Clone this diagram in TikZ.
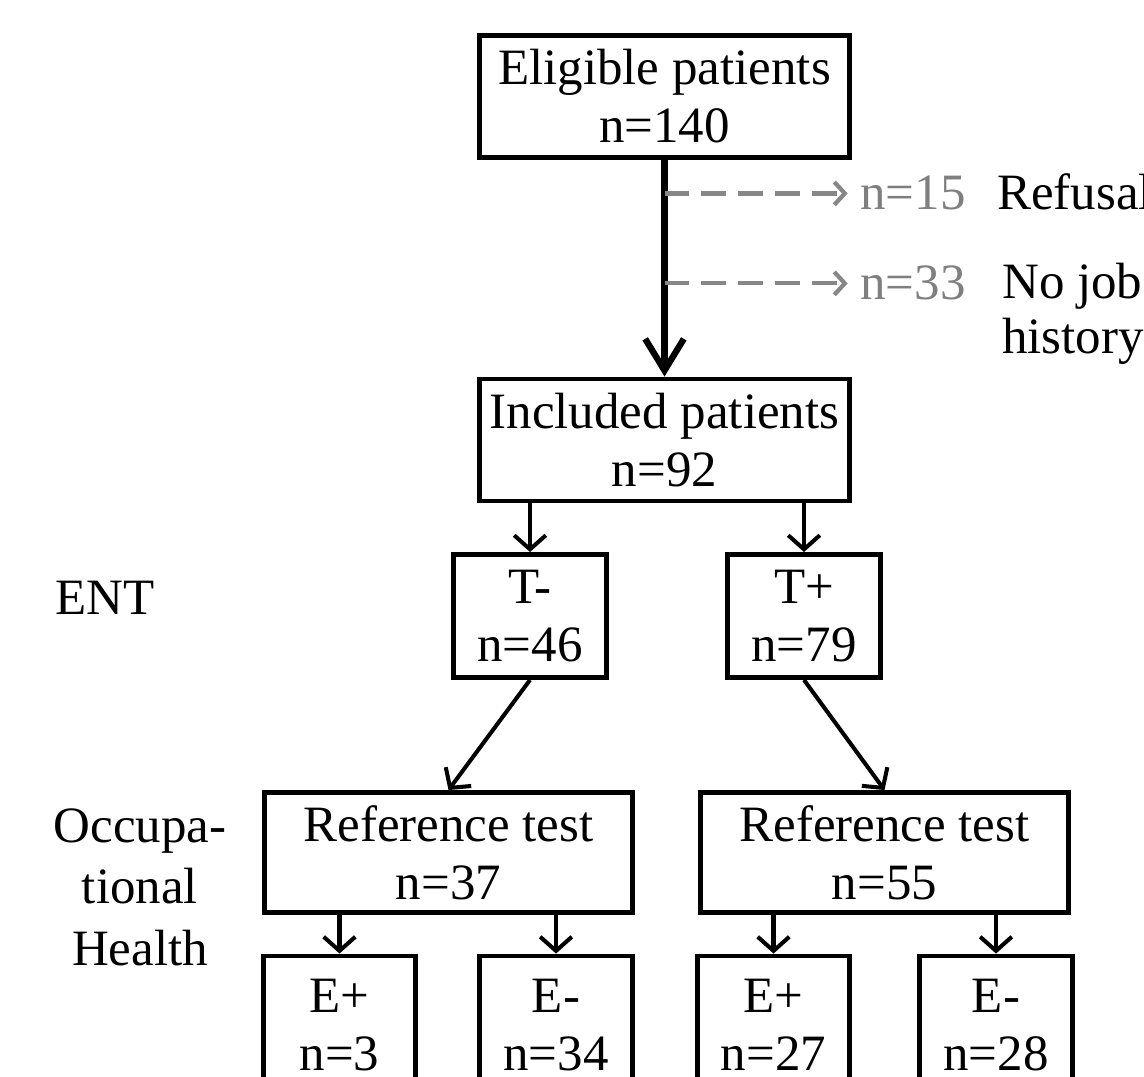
\documentclass[tikz,border=0pt]{standalone}
\usepackage{fontspec}
\setmainfont{Liberation Serif}
\usetikzlibrary{arrows.meta}
\definecolor{dashgray}{HTML}{878787}
\definecolor{countgray}{HTML}{7F7F7F}

\begin{document}
\begin{tikzpicture}[x=0.02cm,y=-0.02cm,
  every node/.style={font=\fontsize{29}{33}\selectfont},
  flowbox/.style={draw, line width=2.8pt, align=center, inner sep=0pt},
  widebox/.style={flowbox, minimum width=7.4cm, minimum height=2.44cm},
  smallbox/.style={flowbox, minimum width=3.05cm, minimum height=2.46cm},
  flow/.style={line width=2.3pt, -{Straight Barb[length=8pt,width=18pt]}},
  mainflow/.style={line width=3.6pt, -{Straight Barb[length=18pt,width=22pt]}},
  exclusion/.style={dashgray, line width=2.4pt, dash pattern=on 14pt off 7pt, -{Straight Barb[length=6pt,width=13pt]}},
  count/.style={text=countgray, anchor=base west, inner sep=0pt},
  sidelabel/.style={anchor=base west, inner sep=0pt}]
\useasboundingbox (0,0) rectangle (1144,1077);
\clip (0,0) rectangle (1144,1077);

\node[widebox] (elig) at (664.5,96.5) {Eligible patients\\n=140};
\node[widebox] (incl) at (664.5,440) {Included patients\\n=92};
\node[smallbox] (tneg) at (530,616) {T-\\n=46};
\node[smallbox] (tpos) at (804,616) {T+\\n=79};
\node[widebox, minimum width=7.36cm, minimum height=2.4cm] (refneg) at (448.5,852.5) {Reference test\\n=37};
\node[widebox, minimum width=7.36cm, minimum height=2.4cm] (refpos) at (884.5,852.5) {Reference test\\n=55};
\node[smallbox, minimum height=2.76cm] (eposA) at (339.5,1025) {E+\\n=3};
\node[smallbox, minimum height=2.76cm] (enegA) at (556,1025) {E-\\n=34};
\node[smallbox, minimum height=2.76cm] (eposB) at (773.5,1025) {E+\\n=27};
\node[smallbox, minimum height=2.76cm] (enegB) at (996,1025) {E-\\n=28};

% excluded patients
\node[count] (n15) at (860,210) {n=15};
\node[sidelabel] (refusal) at (997,210) {Refusal};
\node[count] (n33) at (860,300) {n=33};
\node[anchor=north west, align=left, inner sep=0pt, font=\fontsize{29}{31}\selectfont] (nojob) at (1002,263) {No job\\history};

% row labels
\node[sidelabel] (ent) at (55,615) {ENT};
\node[anchor=north, align=center, inner sep=0pt, font=\fontsize{29}{35}\selectfont] (occ) at (140,808) {Occupa-\\tional\\Health};

\draw[mainflow] (elig) -- (incl);
\draw[exclusion] (n15.west -| elig.south) -- ([xshift=-7pt]n15.west);
\draw[exclusion] (n33.west -| elig.south) -- ([xshift=-7pt]n33.west);
\draw[flow] (incl.south -| tneg) -- (tneg);
\draw[flow] (incl.south -| tpos) -- (tpos);
\draw[flow] (tneg.south) -- (refneg.north);
\draw[flow] (tpos.south) -- (refpos.north);
\draw[flow] (refneg.south -| eposA) -- (eposA);
\draw[flow] (refneg.south -| enegA) -- (enegA);
\draw[flow] (refpos.south -| eposB) -- (eposB);
\draw[flow] (refpos.south -| enegB) -- (enegB);
\end{tikzpicture}
\end{document}
